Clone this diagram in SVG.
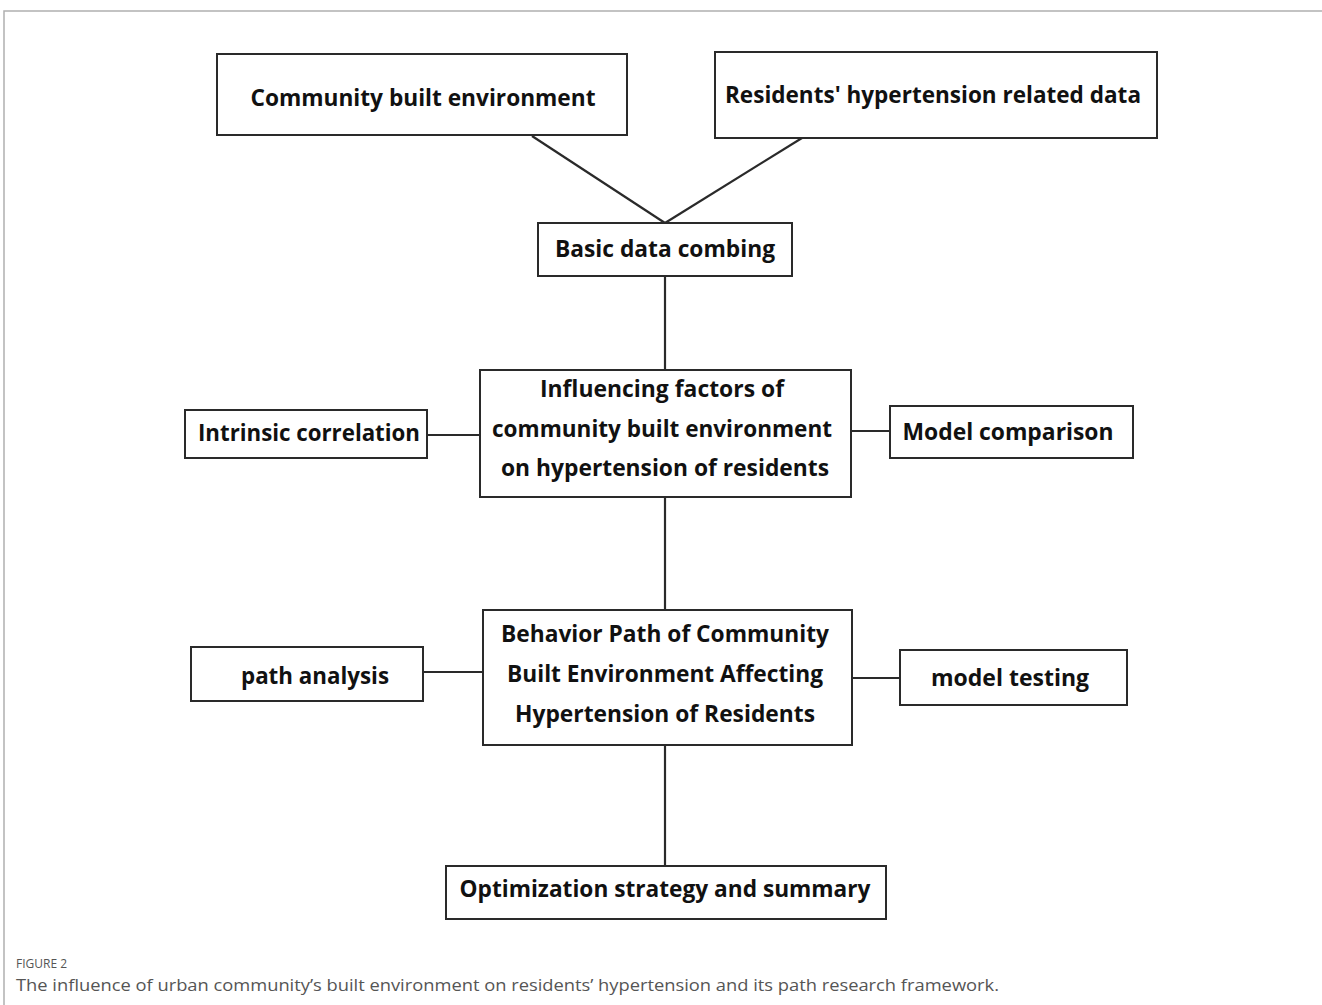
<svg xmlns="http://www.w3.org/2000/svg" width="1322" height="1005" viewBox="0 0 1322 1005">
<style>
.box{fill:#fff;stroke:#2a2a2a;stroke-width:2}
.t{font-family:"Open Sans","Noto Sans","Liberation Sans",sans-serif;font-weight:bold;font-size:24px;fill:#111;text-anchor:middle}
.c{stroke:#2a2a2a;stroke-width:2.2;fill:none}
.frame{stroke:#b0b0b0;stroke-width:1.5;fill:none}
.cap{font-family:"Open Sans","Noto Sans","Liberation Sans",sans-serif;fill:#555}
</style>
<rect width="1322" height="1005" fill="#fff"/>
<path class="frame" d="M4,1005 V11 H1322"/>
<g id="connectors">
<line class="c" x1="532" y1="136" x2="665" y2="223"/>
<line class="c" x1="802" y1="138" x2="665" y2="223"/>
<line class="c" x1="665" y1="276" x2="665" y2="370"/>
<line class="c" x1="427" y1="435" x2="480" y2="435"/>
<line class="c" x1="851" y1="431" x2="890" y2="431"/>
<line class="c" x1="665" y1="497" x2="665" y2="610"/>
<line class="c" x1="423" y1="672" x2="483" y2="672"/>
<line class="c" x1="852" y1="678" x2="900" y2="678"/>
<line class="c" x1="665" y1="745" x2="665" y2="866"/>
</g>
<g id="community">
<rect class="box" x="217" y="54" width="410" height="81"/>
<text class="t" x="423" y="106" textLength="345" lengthAdjust="spacingAndGlyphs">Community built environment</text>
</g>
<g id="residents">
<rect class="box" x="715" y="52" width="442" height="86"/>
<text class="t" x="933" y="103" textLength="416" lengthAdjust="spacingAndGlyphs">Residents' hypertension related data</text>
</g>
<g id="basic">
<rect class="box" x="538" y="223" width="254" height="53"/>
<text class="t" x="665" y="257" textLength="220" lengthAdjust="spacingAndGlyphs">Basic data combing</text>
</g>
<g id="influencing">
<rect class="box" x="480" y="370" width="371" height="127"/>
<text class="t" x="662" y="397" textLength="244" lengthAdjust="spacingAndGlyphs">Influencing factors of</text>
<text class="t" x="662" y="437" textLength="340" lengthAdjust="spacingAndGlyphs">community built environment</text>
<text class="t" x="665" y="476" textLength="328" lengthAdjust="spacingAndGlyphs">on hypertension of residents</text>
</g>
<g id="intrinsic">
<rect class="box" x="185" y="410" width="242" height="48"/>
<text class="t" x="309" y="441" textLength="222" lengthAdjust="spacingAndGlyphs">Intrinsic correlation</text>
</g>
<g id="model-comparison">
<rect class="box" x="890" y="406" width="243" height="52"/>
<text class="t" x="1008" y="440" textLength="211" lengthAdjust="spacingAndGlyphs">Model comparison</text>
</g>
<g id="behavior">
<rect class="box" x="483" y="610" width="369" height="135"/>
<text class="t" x="665" y="642" textLength="328" lengthAdjust="spacingAndGlyphs">Behavior Path of Community</text>
<text class="t" x="665" y="682" textLength="316" lengthAdjust="spacingAndGlyphs">Built Environment Affecting</text>
<text class="t" x="665" y="722" textLength="300" lengthAdjust="spacingAndGlyphs">Hypertension of Residents</text>
</g>
<g id="path-analysis">
<rect class="box" x="191" y="647" width="232" height="54"/>
<text class="t" x="315" y="684" textLength="148" lengthAdjust="spacingAndGlyphs">path analysis</text>
</g>
<g id="model-testing">
<rect class="box" x="900" y="650" width="227" height="55"/>
<text class="t" x="1010" y="686" textLength="158" lengthAdjust="spacingAndGlyphs">model testing</text>
</g>
<g id="optimization">
<rect class="box" x="446" y="866" width="440" height="53"/>
<text class="t" x="665" y="897" textLength="411" lengthAdjust="spacingAndGlyphs">Optimization strategy and summary</text>
</g>
<text class="cap" x="16" y="968" font-size="12">FIGURE 2</text>
<text class="cap" x="16" y="991" font-size="16" textLength="983" lengthAdjust="spacingAndGlyphs">The influence of urban community’s built environment on residents’ hypertension and its path research framework.</text>
</svg>
